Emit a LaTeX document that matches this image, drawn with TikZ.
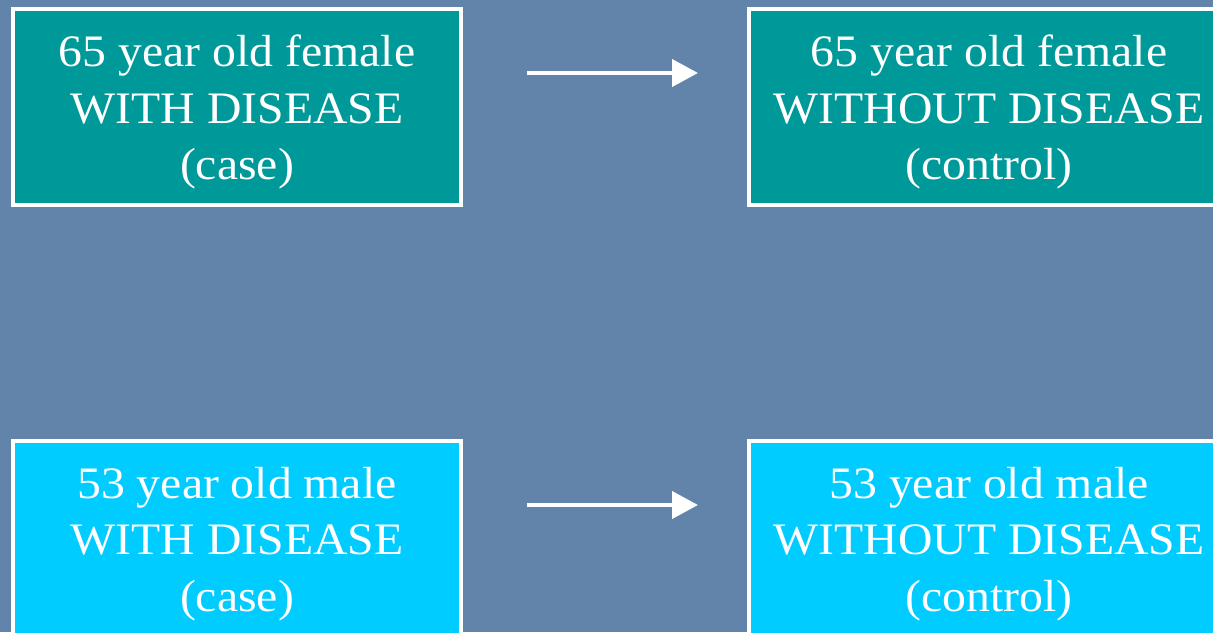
\documentclass[tikz,border=0pt]{standalone}
\usepackage{fontspec}
\setmainfont{Liberation Serif}
\usetikzlibrary{arrows.meta}
\definecolor{bgblue}{RGB}{98,131,170}
\definecolor{tealbox}{RGB}{0,153,153}
\definecolor{cyanbox}{RGB}{0,204,255}
\tikzset{
  box/.style={draw=white, line width=4pt, rectangle, inner sep=0pt},
  casebox/.style={box, minimum width=448pt, minimum height=196pt},
  ctrlbox/.style={box, minimum width=480pt, minimum height=196pt},
  boxtext/.style={text=white, align=center, inner sep=0pt, transform shape, xscale=1.06,
    font=\fontsize{45}{56.5}\selectfont},
  arrowline/.style={draw=white, line width=4pt, -{Triangle[length=26pt,width=27pt]},
    shorten <=64pt, shorten >=49pt}
}
\begin{document}
\begin{tikzpicture}[x=1pt,y=1pt]
\useasboundingbox (0,0) rectangle (1213,-632);
\fill[bgblue] (0,0) rectangle (1213,-632);
\begin{scope}
\clip (0,0) rectangle (1213,-632);
% boxes
\node[casebox, fill=tealbox] (a) at (237,-107) {};
\node[ctrlbox, fill=tealbox] (b) at (989,-107) {};
\node[casebox, fill=cyanbox] (c) at (237,-539) {};
\node[ctrlbox, fill=cyanbox] (d) at (989,-539) {};
% texts
\node[boxtext] (at) at ([yshift=-5pt]a.center) {65 year old female\\WITH DISEASE\\(case)};
\node[boxtext] (bt) at ([yshift=-5pt]b.center) {65 year old female\\WITHOUT DISEASE\\(control)};
\node[boxtext] (ct) at ([yshift=-5pt]c.center) {53 year old male\\WITH DISEASE\\(case)};
\node[boxtext] (dt) at ([yshift=-5pt]d.center) {53 year old male\\WITHOUT DISEASE\\(control)};
% arrows
\draw[arrowline] ([yshift=34pt]a.east) -- ([yshift=34pt]b.west);
\draw[arrowline] ([yshift=34pt]c.east) -- ([yshift=34pt]d.west);
\end{scope}
\end{tikzpicture}
\end{document}
